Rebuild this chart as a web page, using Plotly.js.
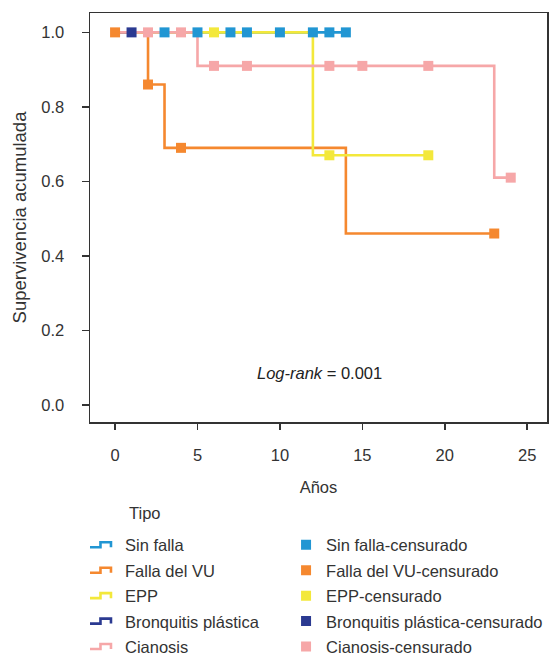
<!DOCTYPE html>
<html>
<head>
<meta charset="utf-8">
<script src="https://cdn.plot.ly/plotly-3.0.1.min.js"></script>
<style>
  html, body { margin: 0; padding: 0; background: #fff; }
  #chart { width: 549px; height: 656px; }
</style>
</head>
<body>
<div id="chart"></div>
<script>
// ---- Data ----
var groups = ["Sin falla", "Falla del VU", "EPP", "Bronquitis plástica", "Cianosis"];
var colors = ["#2196d3", "#f5882f", "#f3e83b", "#2b3a91", "#f6a7a8"];

// Kaplan-Meier step curves (time, survival)
var sinFallaT = [0, 14];
var sinFallaS = [1, 1];
var fallaVUT = [0, 2, 3, 14, 23];
var fallaVUS = [1, 0.86, 0.69, 0.46, 0.46];
var eppT = [0, 12, 19];
var eppS = [1, 0.67, 0.67];
var bronqT = [0, 1];
var bronqS = [1, 1];
var cianosisT = [0, 5, 23, 24];
var cianosisS = [1, 0.91, 0.61, 0.61];

// Censored observations
var sinFallaCensT = [3, 5, 7, 8, 10, 12, 13, 14];
var sinFallaCensS = [1, 1, 1, 1, 1, 1, 1, 1];
var fallaVUCensT = [0, 2, 4, 23];
var fallaVUCensS = [1, 0.86, 0.69, 0.46];
var eppCensT = [6, 13, 19];
var eppCensS = [1, 0.67, 0.67];
var bronqCensT = [1];
var bronqCensS = [1];
var cianosisCensT = [2, 4, 6, 8, 13, 15, 19, 24];
var cianosisCensS = [1, 1, 0.91, 0.91, 0.91, 0.91, 0.91, 0.61];

var xTicks = [0, 5, 10, 15, 20, 25];
var yTicks = [0, 0.2, 0.4, 0.6, 0.8, 1.0];

var curves = [[sinFallaT, sinFallaS], [fallaVUT, fallaVUS], [eppT, eppS], [bronqT, bronqS], [cianosisT, cianosisS]];
var cens = [[sinFallaCensT, sinFallaCensS], [fallaVUCensT, fallaVUCensS], [eppCensT, eppCensS], [bronqCensT, bronqCensS], [cianosisCensT, cianosisCensS]];

var FONT = "Liberation Sans, Arial, sans-serif";
var traces = [];
groups.forEach(function (g, i) {
  traces.push({
    type: "scatter", mode: "lines", name: g,
    x: curves[i][0], y: curves[i][1],
    line: { shape: "hv", color: colors[i], width: 2.6 },
    legend: "legend", legendgroup: "l" + i, hoverinfo: "skip"
  });
});
groups.forEach(function (g, i) {
  traces.push({
    type: "scatter", mode: "markers", name: g + "-censurado",
    x: cens[i][0], y: cens[i][1],
    marker: { symbol: "square", size: 10, color: colors[i], line: { width: 0 } },
    legend: "legend2", legendgroup: "c" + i, hoverinfo: "skip"
  });
});

var layout = {
  width: 549, height: 656,
  margin: { l: 90, r: 2, t: 13, b: 234, pad: 0, autoexpand: false },
  paper_bgcolor: "#fff", plot_bgcolor: "#fff",
  font: { family: FONT, size: 16.5, color: "#333" },
  showlegend: true,
  xaxis: {
    range: [-1.52, 26.2], tickvals: xTicks, ticktext: xTicks.map(String),
    showgrid: false, zeroline: false, automargin: false,
    showline: true, mirror: true, linecolor: "#333", linewidth: 1.5,
    ticks: "outside", ticklen: 6, tickwidth: 1.5, tickcolor: "#333",
    ticklabelstandoff: 12,
    tickfont: { family: FONT, size: 16.5, color: "#333" },
    title: { text: "Años", font: { family: FONT, size: 16.5, color: "#333" }, standoff: 18 }
  },
  yaxis: {
    range: [-0.046, 1.052], tickvals: yTicks, ticktext: yTicks.map(function (v) { return v.toFixed(1); }),
    showgrid: false, zeroline: false, automargin: false,
    showline: true, mirror: true, linecolor: "#333", linewidth: 1.5,
    ticks: "outside", ticklen: 7, tickwidth: 1.5, tickcolor: "#333",
    ticklabelstandoff: 14,
    tickfont: { family: FONT, size: 16.5, color: "#333" },
    title: { text: "Supervivencia acumulada", font: { family: FONT, size: 18.5, color: "#333" }, standoff: 10 }
  },
  legend: {
    x: -0.011, xanchor: "left", y: -0.258, yanchor: "top",
    bgcolor: "rgba(0,0,0,0)", borderwidth: 0,
    font: { family: FONT, size: 16.5, color: "#333" },
    tracegroupgap: 1, traceorder: "grouped", itemclick: false
  },
  legend2: {
    x: 0.429, xanchor: "left", y: -0.258, yanchor: "top",
    bgcolor: "rgba(0,0,0,0)", borderwidth: 0,
    font: { family: FONT, size: 16.5, color: "#333" },
    tracegroupgap: 1, traceorder: "grouped", itemclick: false
  },
  annotations: [
    { xref: "paper", yref: "paper", x: 0.082, y: -0.2225, xanchor: "left", yanchor: "middle",
      text: "Tipo", showarrow: false, font: { family: FONT, size: 16.5, color: "#333" } },
    { xref: "x", yref: "y", x: 12.4, y: 0.085, xanchor: "center", yanchor: "middle",
      text: "<i>Log-rank</i> = 0.001", showarrow: false, font: { family: FONT, size: 16.5, color: "#222" } }
  ]
};

Plotly.newPlot("chart", traces, layout, { displayModeBar: false, staticPlot: true }).then(function () {
  // step-shaped legend icons, as in the reference
  document.querySelectorAll(".legendlines path").forEach(function (p) {
    p.setAttribute("d", "M5,2.5h10.5v-5h10.5v5");
  });
});
</script>
</body>
</html>
